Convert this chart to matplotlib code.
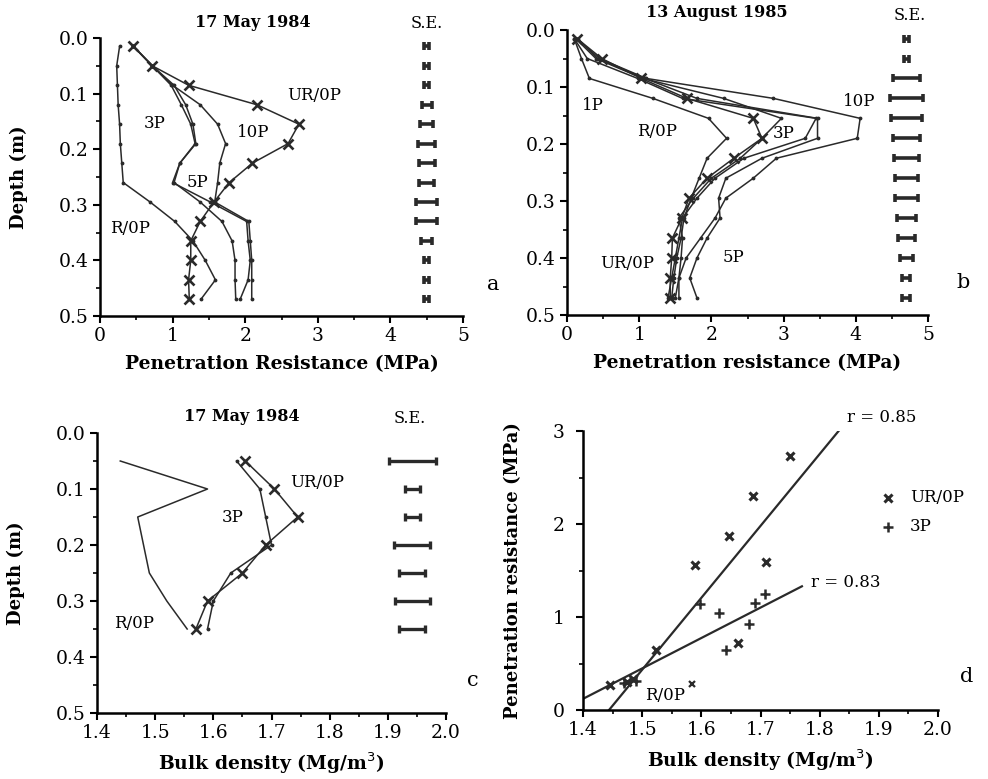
import matplotlib
matplotlib.use('Agg')
import matplotlib.pyplot as plt
from matplotlib.ticker import MultipleLocator, FormatStrFormatter

plt.rcParams['font.family'] = 'DejaVu Serif'

# === Data ===
depth = [0.015, 0.05, 0.085, 0.12, 0.155, 0.19, 0.225, 0.26, 0.295, 0.33, 0.365, 0.40, 0.435, 0.47]

# (a) 17 May 1984 penetration resistance (MPa)
a_ur0p = [0.46, 0.72, 1.22, 2.16, 2.74, 2.59, 2.10, 1.78, 1.57, 1.38, 1.25, 1.25, 1.22, 1.23]
a_r0p = [0.27, 0.23, 0.24, 0.25, 0.27, 0.28, 0.30, 0.32, 0.69, 1.03, 1.28, 1.45, 1.59, 1.39]
a_3p = [0.46, 0.72, 0.98, 1.12, 1.25, 1.31, 1.10, 1.02, 1.38, 1.68, 1.82, 1.86, 1.86, 1.87]
a_5p = [0.46, 0.72, 1.02, 1.18, 1.28, 1.32, 1.10, 1.00, 1.52, 2.02, 2.04, 2.07, 2.04, 1.93]
a_10p = [0.46, 0.72, 1.00, 1.38, 1.62, 1.73, 1.65, 1.62, 1.58, 2.05, 2.07, 2.09, 2.09, 2.09]
a_se = [0.035, 0.035, 0.035, 0.07, 0.09, 0.12, 0.11, 0.10, 0.145, 0.145, 0.075, 0.035, 0.035, 0.035]

# (b) 13 August 1985 penetration resistance (MPa)
b_ur0p = [0.14, 0.48, 1.03, 1.66, 2.58, 2.70, 2.31, 1.94, 1.69, 1.59, 1.46, 1.45, 1.43, 1.43]
b_r0p = [0.10, 0.20, 0.31, 1.19, 1.96, 2.21, 1.94, 1.83, 1.72, 1.62, 1.58, 1.52, 1.48, 1.45]
b_1p = [0.10, 0.28, 0.98, 1.60, 3.45, 3.30, 2.45, 2.05, 1.80, 1.60, 1.55, 1.50, 1.45, 1.40]
b_3p = [0.12, 0.40, 1.05, 2.17, 2.97, 2.70, 2.40, 2.00, 1.75, 1.55, 1.60, 1.58, 1.55, 1.55]
b_5p = [0.15, 0.42, 1.08, 1.80, 3.47, 3.47, 2.70, 2.20, 2.10, 2.12, 1.94, 1.80, 1.70, 1.80]
b_10p = [0.13, 0.45, 1.10, 2.86, 4.06, 4.02, 2.90, 2.58, 2.20, 2.05, 1.85, 1.65, 1.55, 1.50]
b_se = [0.037, 0.037, 0.19, 0.23, 0.21, 0.185, 0.175, 0.16, 0.16, 0.13, 0.115, 0.09, 0.055, 0.055]

# (c) 17 May 1984 bulk density (Mg/m3)
c_depth = [0.05, 0.10, 0.15, 0.20, 0.25, 0.30, 0.35]
c_ur0p = [1.655, 1.705, 1.745, 1.69, 1.65, 1.59, 1.57]
c_3p = [1.64, 1.68, 1.69, 1.70, 1.63, 1.60, 1.59]
c_r0p = [1.44, 1.59, 1.47, 1.48, 1.49, 1.52, 1.555]
c_se = [0.040, 0.013, 0.013, 0.031, 0.022, 0.030, 0.022]

# (d) penetration resistance vs bulk density
d_ur_bd = [1.445, 1.475, 1.485, 1.524, 1.589, 1.647, 1.688, 1.750, 1.710, 1.662]
d_ur_pr = [0.27, 0.30, 0.33, 0.65, 1.56, 1.87, 2.30, 2.73, 1.59, 0.72]
d_3p_bd = [1.597, 1.630, 1.642, 1.681, 1.691, 1.708, 1.470, 1.490]
d_3p_pr = [1.14, 1.04, 0.64, 0.93, 1.15, 1.25, 0.29, 0.31]
d_r0p_bd = [1.585]
d_r0p_pr = [0.28]
ur_fit_bd = [1.444, 1.832]
ur_fit_pr = [0.0, 3.0]
p3_fit_bd = [1.40, 1.770]
p3_fit_pr = [0.12, 1.33]

W, H = 988, 779
fig = plt.figure(figsize=(W / 100, H / 100), dpi=100)


def px_axes(left, top, right, bottom):
    return fig.add_axes([left / W, 1 - bottom / H, (right - left) / W, (bottom - top) / H])


def style(ax):
    for s in ['top', 'right']:
        ax.spines[s].set_visible(False)
    for s in ['left', 'bottom']:
        ax.spines[s].set_linewidth(1.8)
    ax.tick_params(which='major', direction='out', length=5, width=1.5, labelsize=13.5, pad=3)
    ax.tick_params(which='minor', direction='out', length=3, width=1.2)


def depth_axis(ax):
    ax.set_ylim(0.5, 0.0)
    ax.yaxis.set_major_locator(MultipleLocator(0.1))
    ax.yaxis.set_minor_locator(MultipleLocator(0.05))
    ax.yaxis.set_major_formatter(FormatStrFormatter('%.1f'))
    ax.set_ylabel('Depth (m)', fontsize=13, fontweight='bold', labelpad=22)


line_kw = dict(color='#2a2a2a', lw=1.1)
dot_kw = dict(marker='.', ms=3.5)
x_kw = dict(marker='x', ms=7, mew=1.9)

# === Panel a ===
ax = px_axes(100, 38, 463, 316)
style(ax)
depth_axis(ax)
ax.set_xlim(0, 5)
ax.xaxis.set_major_locator(MultipleLocator(1))
ax.xaxis.set_minor_locator(MultipleLocator(0.5))
for vals in [a_r0p, a_3p, a_5p, a_10p]:
    ax.plot(vals, depth, **line_kw, **dot_kw)
ax.plot(a_ur0p, depth, **line_kw, **x_kw)
ax.errorbar([4.5] * len(depth), depth, xerr=a_se, fmt='none', ecolor='#2a2a2a',
            elinewidth=2.6, capsize=3, capthick=2.6)
ax.set_xlabel('Penetration Resistance (MPa)', fontsize=13.5, fontweight='bold', labelpad=7)
ax.text(0.42, 1.025, '17 May 1984', transform=ax.transAxes, ha='center', va='bottom',
        fontsize=11.5, fontweight='bold')
ax.text(4.5, -0.01, 'S.E.', ha='center', va='bottom', fontsize=11.5)
ax.text(2.58, 0.103, 'UR/0P', fontsize=12, va='center')
ax.text(0.6, 0.153, '3P', fontsize=12, va='center')
ax.text(1.88, 0.17, '10P', fontsize=12, va='center')
ax.text(1.2, 0.26, '5P', fontsize=12, va='center')
ax.text(0.14, 0.342, 'R/0P', fontsize=12, va='center')

# === Panel b ===
ax = px_axes(567, 30, 928, 315)
style(ax)
depth_axis(ax)
ax.set_ylabel('')
ax.set_xlim(0, 5)
ax.xaxis.set_major_locator(MultipleLocator(1))
ax.xaxis.set_minor_locator(MultipleLocator(0.5))
for vals in [b_r0p, b_1p, b_3p, b_5p, b_10p]:
    ax.plot(vals, depth, **line_kw, **dot_kw)
ax.plot(b_ur0p, depth, **line_kw, **x_kw)
ax.errorbar([4.7] * len(depth), depth, xerr=b_se, fmt='none', ecolor='#2a2a2a',
            elinewidth=2.6, capsize=3, capthick=2.6)
ax.set_xlabel('Penetration resistance (MPa)', fontsize=13.5, fontweight='bold', labelpad=7)
ax.text(0.415, 1.03, '13 August 1985', transform=ax.transAxes, ha='center', va='bottom',
        fontsize=11.5, fontweight='bold')
ax.text(4.75, -0.01, 'S.E.', ha='center', va='bottom', fontsize=11.5)
ax.text(0.21, 0.132, '1P', fontsize=12, va='center')
ax.text(0.97, 0.178, 'R/0P', fontsize=12, va='center')
ax.text(2.85, 0.181, '3P', fontsize=12, va='center')
ax.text(3.82, 0.126, '10P', fontsize=12, va='center')
ax.text(0.46, 0.41, 'UR/0P', fontsize=12, va='center')
ax.text(2.15, 0.40, '5P', fontsize=12, va='center')

# === Panel c ===
ax = px_axes(97, 433, 446, 713)
style(ax)
depth_axis(ax)
ax.set_xlim(1.4, 2.0)
ax.xaxis.set_major_locator(MultipleLocator(0.1))
ax.xaxis.set_minor_locator(MultipleLocator(0.05))
ax.xaxis.set_major_formatter(FormatStrFormatter('%.1f'))
ax.plot(c_r0p, c_depth, **line_kw)
ax.plot(c_3p, c_depth, **line_kw, **dot_kw)
ax.plot(c_ur0p, c_depth, **line_kw, **x_kw)
ax.errorbar([1.942] * len(c_depth), c_depth, xerr=c_se, fmt='none', ecolor='#2a2a2a',
            elinewidth=2.4, capsize=3, capthick=2.4)
ax.set_xlabel('Bulk density (Mg/m$^3$)', fontsize=13.5, fontweight='bold', labelpad=6)
ax.text(0.415, 1.03, '17 May 1984', transform=ax.transAxes, ha='center', va='bottom',
        fontsize=11.5, fontweight='bold')
ax.text(1.938, -0.01, 'S.E.', ha='center', va='bottom', fontsize=11.5)
ax.text(1.732, 0.089, 'UR/0P', fontsize=12, va='center')
ax.text(1.614, 0.15, '3P', fontsize=12, va='center')
ax.text(1.43, 0.34, 'R/0P', fontsize=12, va='center')

# === Panel d ===
ax = px_axes(583, 431, 938, 710)
style(ax)
ax.set_xlim(1.4, 2.0)
ax.set_ylim(0, 3)
ax.xaxis.set_major_locator(MultipleLocator(0.1))
ax.xaxis.set_minor_locator(MultipleLocator(0.05))
ax.xaxis.set_major_formatter(FormatStrFormatter('%.1f'))
ax.yaxis.set_major_locator(MultipleLocator(1))
ax.yaxis.set_minor_locator(MultipleLocator(0.5))
ax.tick_params(axis='y', which='major', pad=8)
ax.plot(ur_fit_bd, ur_fit_pr, color='#2a2a2a', lw=1.6)
ax.plot(p3_fit_bd, p3_fit_pr, color='#2a2a2a', lw=1.6)
ax.plot(d_ur_bd, d_ur_pr, ls='none', color='#2a2a2a', marker='x', ms=6, mew=2.2)
ax.plot(d_3p_bd, d_3p_pr, ls='none', color='#2a2a2a', marker='+', ms=7, mew=1.8)
ax.plot(d_r0p_bd, d_r0p_pr, ls='none', color='#2a2a2a', marker='x', ms=4, mew=1.6)
ax.text(1.505, 0.16, 'R/0P', fontsize=12, va='center')
ax.text(1.846, 3.15, 'r = 0.85', fontsize=12, va='center')
ax.text(1.785, 1.37, 'r = 0.83', fontsize=12, va='center')
ax.plot([1.915], [2.28], ls='none', color='#2a2a2a', marker='x', ms=6, mew=2.2, clip_on=False)
ax.plot([1.915], [1.97], ls='none', color='#2a2a2a', marker='+', ms=7, mew=1.8, clip_on=False)
ax.text(1.953, 2.28, 'UR/0P', fontsize=12, va='center')
ax.text(1.953, 1.97, '3P', fontsize=12, va='center')
ax.set_xlabel('Bulk density (Mg/m$^3$)', fontsize=13.5, fontweight='bold', labelpad=6)
ax.set_ylabel('Penetration resistance (MPa)', fontsize=13, fontweight='bold', labelpad=22)

# panel letters
for letter, x, y in [('a', 493, 285), ('b', 963, 283), ('c', 473, 680), ('d', 967, 677)]:
    fig.text(x / W, 1 - y / H, letter, fontsize=15, ha='center', va='center')

fig.savefig('out.png', dpi=100)
